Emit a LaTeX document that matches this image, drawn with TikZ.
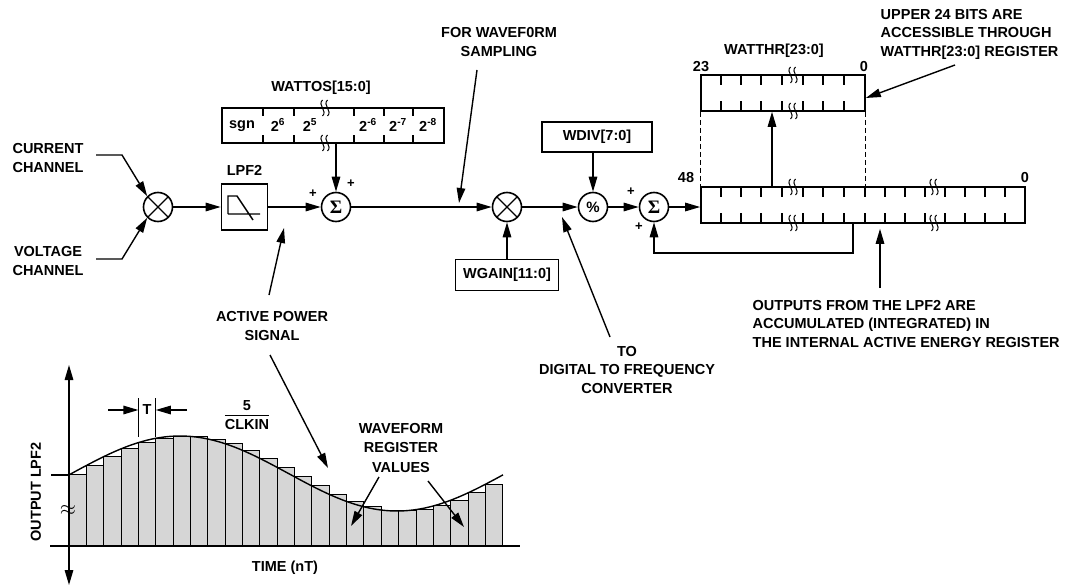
\documentclass[tikz,border=0pt]{standalone}
\usepackage{fontspec}
\setmainfont{Liberation Sans}
\newfontfamily\serifsig{Liberation Serif}
\usetikzlibrary{arrows.meta, positioning, calc}
\newcommand{\sig}{{\serifsig\bfseries\fontsize{19}{19}\selectfont Σ}}
\setlength{\arrayrulewidth}{1.2pt}

\begin{document}
\begin{tikzpicture}[x=1pt, y=-1pt,
  >={Triangle[length=15pt, width=8.5pt]},
  line width=1.4pt,
  every node/.style={font=\bfseries\fontsize{14.5}{18.5}\selectfont, inner sep=0pt},
  blk/.style={draw, line width=1.6pt},
  rnd/.style={draw, circle, minimum size=29pt, line width=1.6pt},
  mult/.style={rnd, path picture={\draw[line width=1.4pt]
    (path picture bounding box.north west) -- (path picture bounding box.south east)
    (path picture bounding box.north east) -- (path picture bounding box.south west);}},
  pls/.style={font=\bfseries\fontsize{13}{13}\selectfont},
  tk/.style={line width=1.2pt},
  bar/.style={draw, fill=black!16, line width=1pt},
  brk/.pic={\draw[line width=1pt] (-2.5,-8) .. controls (-8,-3) and (3,3) .. (-2.5,8)
                                  (2.5,-8) .. controls (-3,-3) and (8,3) .. (2.5,8);},
]
\useasboundingbox (0,0) rectangle (1065,586);

% Input channels
\node[align=center] (cur) at (48,158) {CURRENT\\CHANNEL};
\node[align=center] (vol) at (48,261) {VOLTAGE\\CHANNEL};
\node[mult] (m1) at (158,207) {};
\coordinate (ci) at (96,155);
\coordinate (vi) at (96,259);
\draw[->] (ci) -- ++(26,0) -- (m1.north west);
\draw[->] (vi) -- ++(26,0) -- (m1.south west);

% LPF2
\node[blk, minimum size=46pt] (lpf) at (244.5,207) {};
\node[above=7pt of lpf] (lpfl) {LPF2};
\draw (228,214) -- (260,214) (228,214) -- (228,196) -- (237,196) -- (253,220);
\draw[->] (m1) -- (lpf);

% Offset and first sum
\node[rnd] (s1) at (336,207) {\sig};
\draw[->] (lpf) -- (s1);
\node[pls] (s1a) at (313,194) {+};
\node[pls] (s1b) at (351,184) {+};
\node[blk, minimum width=222pt, minimum height=35pt] (wos) at (333,125.5) {};
\node (wosl) at (321,88) {WATTOS[15:0]};
\foreach \x in {263,294,354,384,413}
  \draw[tk] (\x,108) -- ++(0,8) (\x,143) -- ++(0,-8);
\path (325,108) pic {brk} (325,143) pic {brk};
\node (b0) at (242,126) {sgn};
\node (b1) at (278,125) {2\textsuperscript{6}};
\node (b2) at (310,125) {2\textsuperscript{5}};
\node (b3) at (368,125) {2\textsuperscript{-6}};
\node (b4) at (398,125) {2\textsuperscript{-7}};
\node (b5) at (428,125) {2\textsuperscript{-8}};
\draw[->] (wos.south -| s1) -- (s1);

% Gain
\node[mult] (m2) at (507,207) {};
\draw[->] (s1) -- (m2);
\node[align=center] (wfs) at (499,42) {FOR WAVEF0RM\\SAMPLING};
\coordinate (wfa) at (477,70);
\coordinate (wfb) at (459,203);
\draw[->] (wfa) -- (wfb);
\node[blk, minimum width=103pt, minimum height=31pt] (wg) at (507,275) {WGAIN[11:0]};
\draw[->] (wg) -- (m2);

% Divider
\node[rnd, font=\bfseries\fontsize{15}{15}\selectfont] (dv) at (593,207) {\%};
\draw[->] (m2) -- (dv);
\node[blk, minimum width=110pt, minimum height=30pt] (wd) at (597,137) {WDIV[7:0]};
\draw[->] (wd.south -| dv) -- (dv);
\node[align=center] (dfc) at (627,370) {TO\\DIGITAL TO FREQUENCY\\CONVERTER};
\coordinate (dfa) at (610,337);
\coordinate (dfb) at (562,217);
\draw[->] (dfa) -- (dfb);

% Accumulation
\node[rnd] (s2) at (654,207) {\sig};
\draw[->] (dv) -- (s2);
\node[pls] (s2a) at (631,192) {+};
\node[pls] (s2b) at (639,227) {+};
\node[blk, minimum width=324pt, minimum height=36pt] (acc) at (863,205) {};
\draw[->] (s2) -- (acc.west |- s2);
\foreach \x in {721,741,761,782,803,823,844,865,885,905,925,945,965,985,1005}
  \draw[tk] (\x,187) -- ++(0,10) (\x,223) -- ++(0,-10);
\path (793,187) pic {brk} (793,223) pic {brk} (934,187) pic {brk} (934,223) pic {brk};
\node (acch) at (686,178) {48};
\node (accl) at (1025,178) {0};
\coordinate (fb) at (853,223);
\draw[->] (fb) -- ++(0,30) -| (s2);

% WATTHR register
\node[blk, minimum width=164pt, minimum height=36pt] (whr) at (783,93) {};
\foreach \x in {721,741,761,782,803,823,844}
  \draw[tk] (\x,75) -- ++(0,10) (\x,111) -- ++(0,-10);
\path (793,75) pic {brk} (793,111) pic {brk};
\node (whrh) at (701,67) {23};
\node (whrl) at (864,67) {0};
\node (whrn) at (774,51) {WATTHR[23:0]};
\draw[line width=1.1pt, dash pattern=on 5pt off 3pt] (whr.south west) -- (whr.south west |- acc.north)
  (whr.south east) -- (whr.south east |- acc.north);
\coordinate (ua) at (772,187);
\draw[->] (ua) -- (ua |- whr.south);
\node[align=left, anchor=west] (ub) at (880,34) {UPPER 24 BITS ARE\\ACCESSIBLE THROUGH\\WATTHR[23:0] REGISTER};
\coordinate (uba) at (955,65);
\draw[->] (uba) -- ([yshift=-5pt]whr.east);
\node[align=left, anchor=west] (out) at (752,324) {OUTPUTS FROM THE LPF2 ARE\\ACCUMULATED (INTEGRATED) IN\\THE INTERNAL ACTIVE ENERGY REGISTER};
\coordinate (oa) at (880,288);
\draw[->] (oa) -- ([yshift=-5pt]oa |- acc.south);

% Active power signal
\node[align=center] (aps) at (272,326) {ACTIVE POWER\\[1pt]SIGNAL};
\coordinate (apa) at (269,295);
\coordinate (apb) at (284,228);
\coordinate (apc) at (270,355);
\coordinate (apd) at (328,468);
\draw[->] (apa) -- (apb);
\draw[->] (apc) -- (apd);

% Sampled waveform
\foreach \k in {0,...,24} {
  \pgfmathsetmacro\xa{69+17.35*\k}
  \pgfmathsetmacro\ya{473.5-37.5*cos(((17.35*\k-111)/434)*360)}
  \draw[bar] (\xa,546) rectangle ({\xa+17.35},\ya);
}
\draw plot[domain=0:434, samples=90, smooth] ({69+\x},{473.5-37.5*cos(((\x-111)/434)*360)});
\draw (50,546) -- (520,546);
\draw (51,475) -- (69,475);
\draw[<->] (69,365) -- (69,585);
\node[font=\fontsize{22}{22}\selectfont] (apx) at (68,510) {$\approx$};
\node[rotate=90] (oy) at (36,492) {OUTPUT LPF2};
\node (tx) at (285,568) {TIME (nT)};

% Sample period
\draw[tk] (138.4,398) -- (138.4,437) (155.75,398) -- (155.75,437);
\node (tl) at (147,410) {T};
\coordinate (ta) at (108,410);
\coordinate (tb) at (187,410);
\draw[->] (ta) -- (ta -| 138.4,0);
\draw[->] (tb) -- (tb -| 155.75,0);
\node (frac) at (247,416) {\begin{tabular}{@{}c@{}}5\\[-1pt]\hline CLKIN\end{tabular}};

% Waveform register values
\node[align=center] (wrv) at (401,448) {WAVEFORM\\[1pt]REGISTER\\[1pt]VALUES};
\coordinate (wra) at (379,477);
\coordinate (wrb) at (351,526);
\coordinate (wrc) at (428,481);
\coordinate (wrd) at (464,527);
\draw[->] (wra) -- (wrb);
\draw[->] (wrc) -- (wrd);

\end{tikzpicture}
\end{document}
